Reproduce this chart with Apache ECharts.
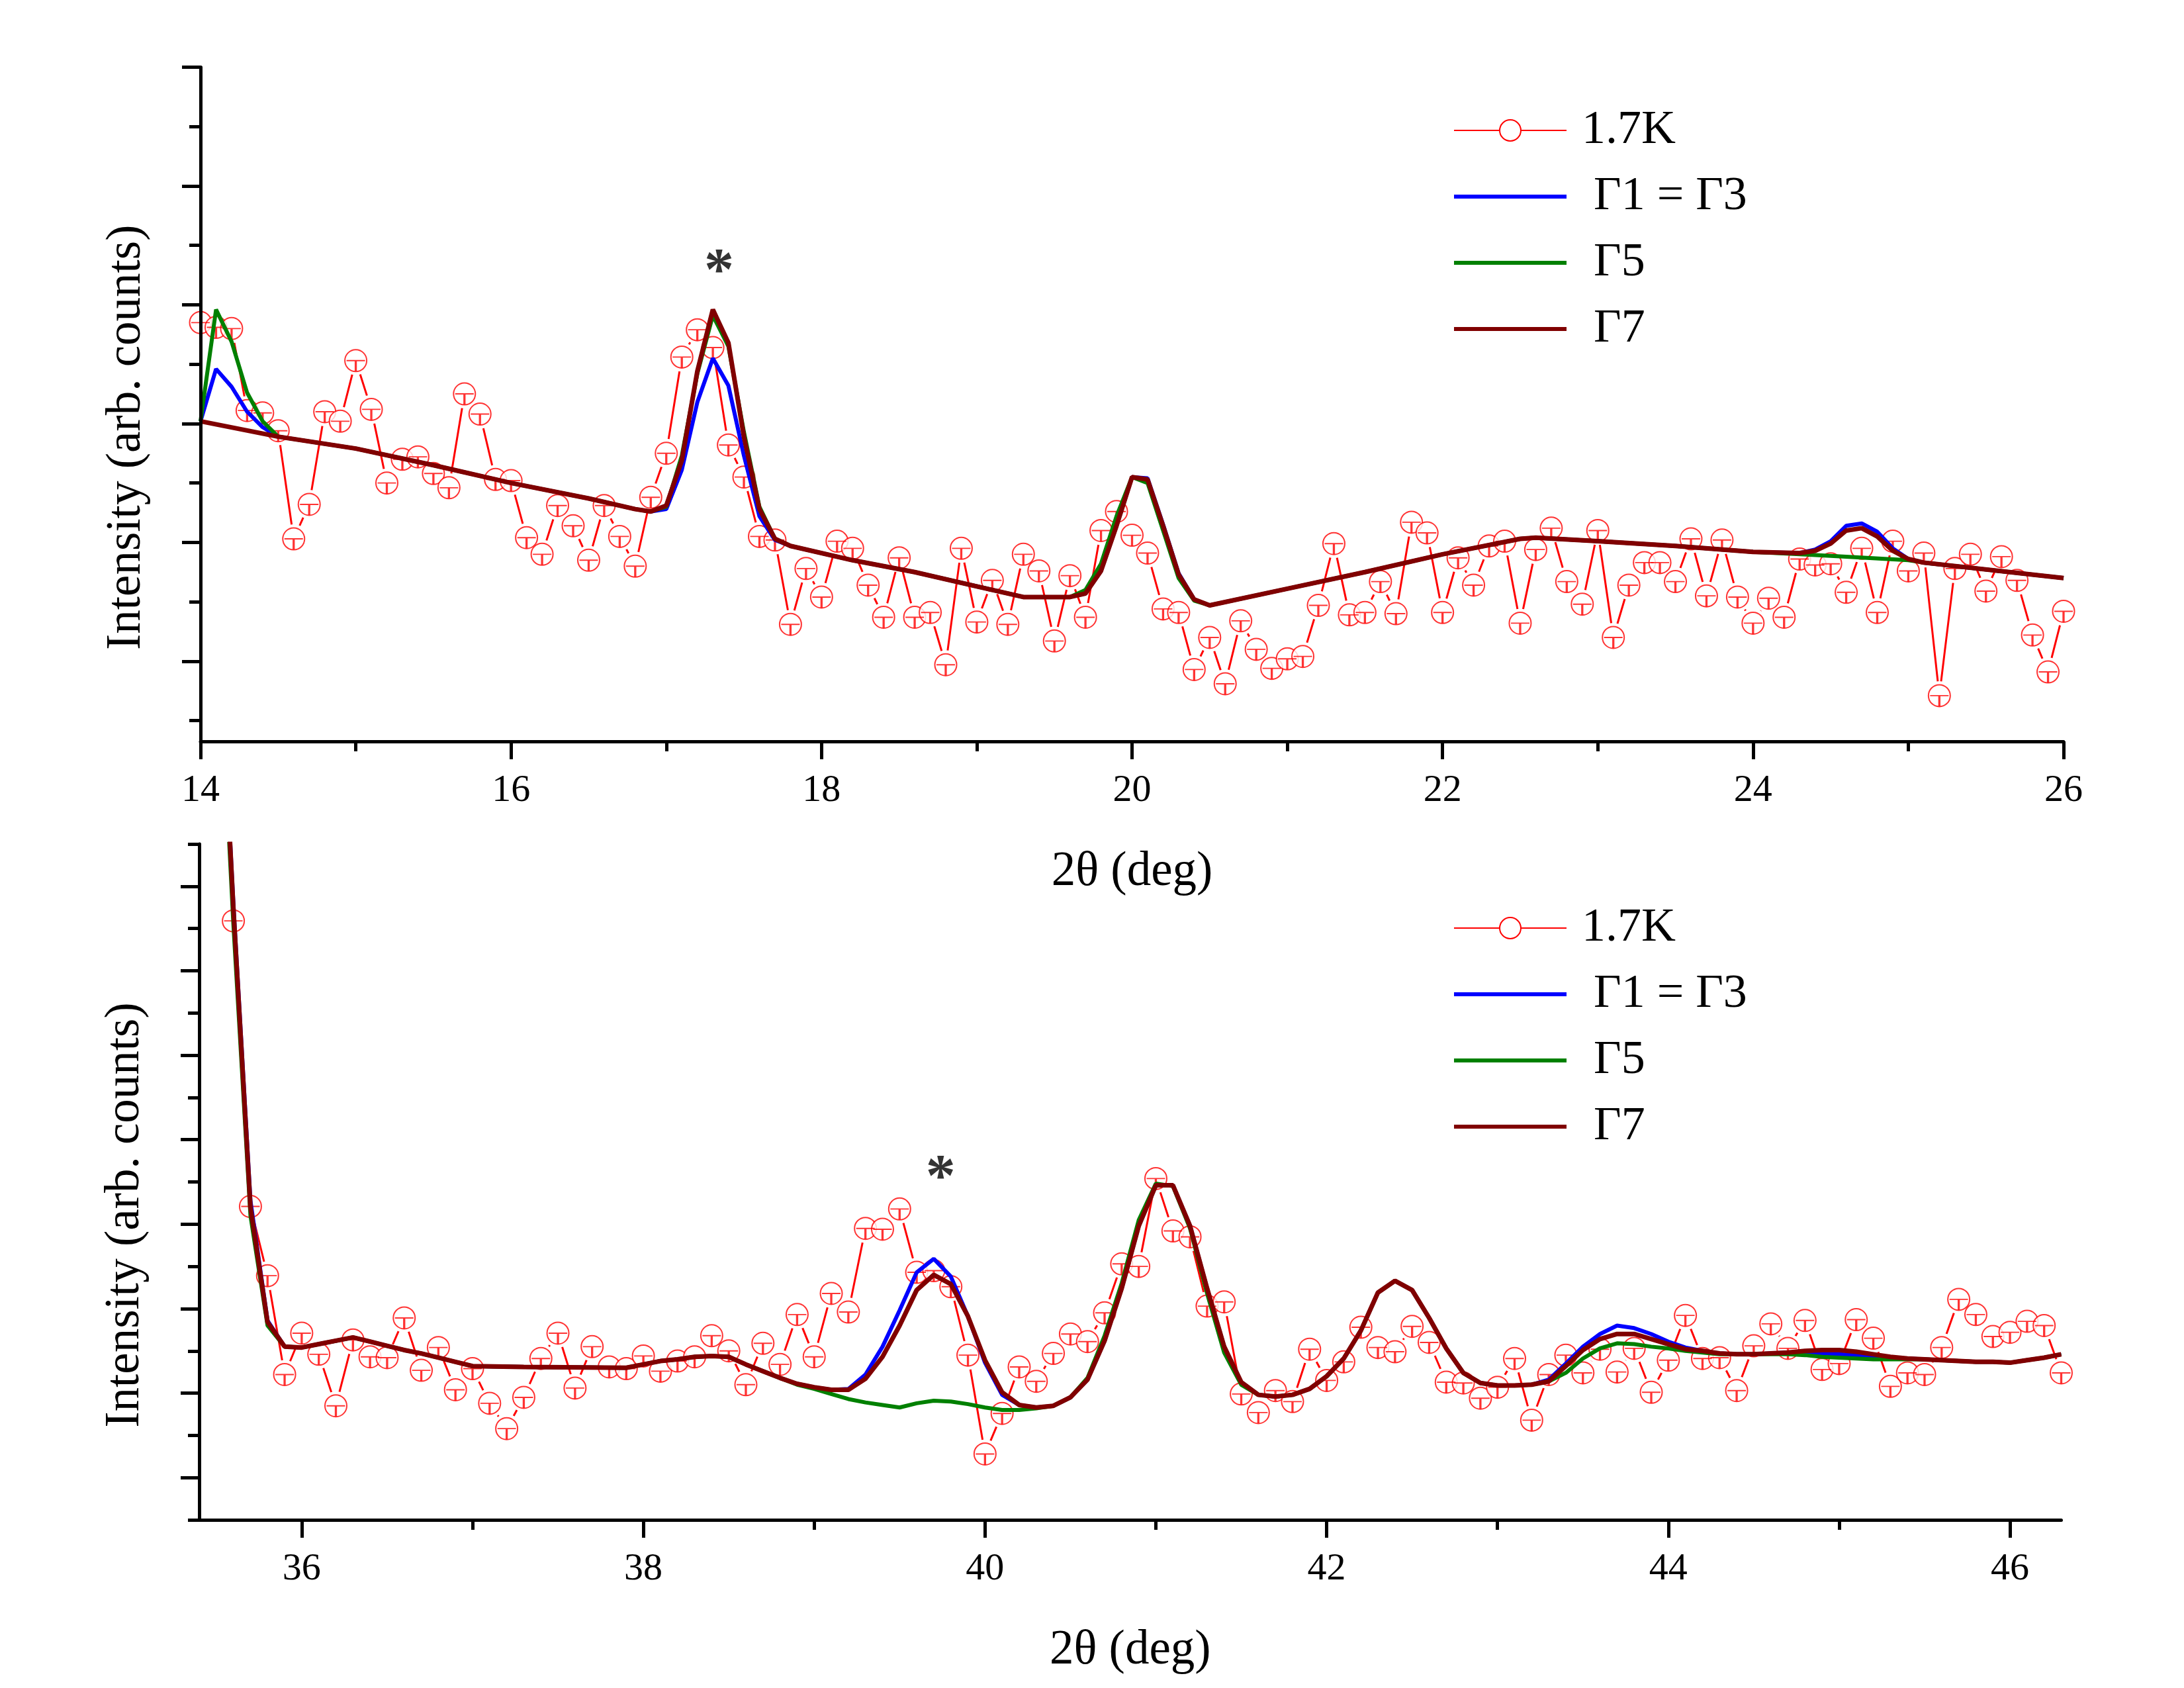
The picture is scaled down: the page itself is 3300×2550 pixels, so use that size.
<!DOCTYPE html>
<html><head><meta charset="utf-8">
<script src="https://cdn.jsdelivr.net/npm/echarts@6/dist/echarts.min.js"></script>
<style>html,body{margin:0;padding:0;background:#fff}#chart{width:3300px;height:2550px}</style>
</head><body><div id="chart"></div>
<script>
// ---------------- data ----------------
const step = 0.1;
const topStart = 14.0;
const botStart = 35.6;

// measured 1.7K intensities, top panel, 14.0 .. 26.0 deg
const top17K = [
 2.85,2.81,2.80,2.11,2.09,1.94,1.03,1.32,2.10,2.02,
 2.53,2.12,1.50,1.70,1.72,1.58,1.46,2.25,2.08,1.53,
 1.52,1.04,0.90,1.31,1.14,0.85,1.31,1.05,0.80,1.38,
 1.75,2.56,2.79,2.64,1.82,1.55,1.05,1.02,0.31,0.78,
 0.54,1.01,0.95,0.64,0.37,0.87,0.37,0.41,-0.03,0.95,
 0.33,0.68,0.31,0.90,0.76,0.17,0.72,0.37,1.10,1.26,
 1.06,0.91,0.44,0.41,-0.07,0.20,-0.19,0.34,0.10,-0.06,
 0.02,0.04,0.47,0.99,0.39,0.41,0.67,0.40,1.17,1.08,
 0.41,0.87,0.64,0.97,1.01,0.32,0.94,1.12,0.67,0.48,
 1.10,0.20,0.64,0.83,0.83,0.67,1.03,0.55,1.02,0.54,
 0.32,0.53,0.37,0.86,0.81,0.82,0.58,0.95,0.41,1.01,
 0.76,0.91,-0.29,0.78,0.90,0.59,0.88,0.68,0.22,-0.09,
 0.42
];

// measured 1.7K intensities, bottom panel, 35.6 .. 46.3 deg
const bot17K = [
 6.59,3.21,2.39,1.22,1.71,1.46,0.85,1.63,1.43,1.42,
 1.89,1.27,1.54,1.04,1.29,0.88,0.58,0.95,1.41,1.71,
 1.06,1.55,1.31,1.29,1.44,1.26,1.38,1.43,1.68,1.50,
 1.10,1.59,1.34,1.93,1.43,2.18,1.96,2.95,2.94,3.18,
 2.43,2.45,2.26,1.45,0.28,0.76,1.31,1.14,1.47,1.70,
 1.61,1.95,2.53,2.50,3.54,2.92,2.85,2.03,2.08,0.99,
 0.77,1.03,0.90,1.52,1.15,1.37,1.78,1.54,1.49,1.79,
 1.60,1.13,1.12,0.94,1.07,1.41,0.68,1.22,1.45,1.24,
 1.52,1.25,1.53,1.01,1.39,1.92,1.41,1.42,1.03,1.56,
 1.82,1.53,1.86,1.28,1.35,1.87,1.65,1.08,1.24,1.22,
 1.54,2.11,1.93,1.67,1.72,1.85,1.80,1.24
];

// model curves, top panel [2theta, intensity]
const topG13 = [[14.0,2.02],[14.1,2.46],[14.2,2.31],[14.3,2.10],[14.4,1.97],[14.5,1.89],[15.0,1.79],[15.5,1.65],[16.0,1.50],[16.5,1.37],[16.8,1.28],[16.9,1.26],[17.0,1.28],[17.1,1.61],[17.2,2.18],[17.3,2.55],[17.4,2.32],[17.5,1.73],[17.6,1.22],[17.7,1.02],[17.8,0.97],[18.2,0.85],[18.6,0.75],[19.0,0.63],[19.3,0.54],[19.6,0.54],[19.7,0.57],[19.8,0.76],[19.9,1.14],[20.0,1.55],[20.1,1.54],[20.2,1.15],[20.3,0.74],[20.4,0.52],[20.5,0.47],[21.0,0.61],[21.5,0.75],[22.0,0.90],[22.5,1.03],[22.6,1.04],[23.0,1.01],[23.5,0.97],[24.0,0.92],[24.3,0.91],[24.4,0.94],[24.5,1.01],[24.6,1.14],[24.7,1.16],[24.8,1.09],[24.9,0.95],[25.0,0.86],[25.1,0.83],[26.0,0.70]];
const topG5 = [[14.0,2.02],[14.1,2.96],[14.2,2.69],[14.3,2.26],[14.4,2.02],[14.5,1.89],[15.0,1.79],[15.5,1.65],[16.0,1.50],[16.5,1.37],[16.8,1.28],[16.9,1.26],[17.0,1.30],[17.1,1.73],[17.2,2.42],[17.3,2.91],[17.4,2.65],[17.5,1.93],[17.6,1.30],[17.7,1.03],[17.8,0.97],[18.2,0.85],[18.6,0.75],[19.0,0.63],[19.3,0.54],[19.6,0.54],[19.7,0.60],[19.8,0.82],[19.9,1.22],[20.0,1.55],[20.1,1.50],[20.2,1.10],[20.3,0.70],[20.4,0.51],[20.5,0.47],[21.0,0.61],[21.5,0.75],[22.0,0.90],[22.5,1.03],[22.6,1.04],[23.0,1.01],[23.5,0.97],[24.0,0.92],[24.3,0.90],[24.6,0.88],[25.0,0.85],[25.1,0.83],[26.0,0.70]];
const topG7 = [[14.0,2.02],[14.5,1.89],[15.0,1.79],[15.5,1.65],[16.0,1.50],[16.5,1.37],[16.8,1.28],[16.9,1.26],[17.0,1.31],[17.1,1.69],[17.2,2.44],[17.3,2.96],[17.4,2.68],[17.5,1.89],[17.6,1.28],[17.7,1.03],[17.8,0.97],[18.2,0.85],[18.6,0.75],[19.0,0.63],[19.3,0.54],[19.6,0.54],[19.7,0.57],[19.8,0.76],[19.9,1.14],[20.0,1.55],[20.1,1.53],[20.2,1.14],[20.3,0.73],[20.4,0.52],[20.5,0.47],[21.0,0.61],[21.5,0.75],[22.0,0.90],[22.5,1.03],[22.6,1.04],[23.0,1.01],[23.5,0.97],[24.0,0.92],[24.3,0.91],[24.4,0.93],[24.5,0.99],[24.6,1.10],[24.7,1.12],[24.8,1.05],[24.9,0.93],[25.0,0.86],[25.1,0.83],[26.0,0.70]];

// model curves, bottom panel
const botG13 = [[35.5,10.7],[35.6,6.80],[35.7,3.28],[35.8,1.86],[35.9,1.55],[36.0,1.54],[36.1,1.58],[36.2,1.62],[36.3,1.66],[36.4,1.61],[36.5,1.56],[36.6,1.51],[36.7,1.47],[36.8,1.42],[36.9,1.37],[37.0,1.32],[37.3,1.31],[37.9,1.30],[38.0,1.34],[38.1,1.38],[38.2,1.40],[38.3,1.43],[38.4,1.44],[38.5,1.43],[38.6,1.34],[38.7,1.26],[38.8,1.18],[38.9,1.11],[39.0,1.07],[39.1,1.04],[39.2,1.05],[39.3,1.22],[39.4,1.55],[39.5,1.98],[39.6,2.43],[39.7,2.59],[39.8,2.38],[39.9,1.91],[40.0,1.36],[40.1,0.98],[40.2,0.86],[40.3,0.83],[40.4,0.85],[40.5,0.95],[40.6,1.16],[40.7,1.62],[40.8,2.24],[40.9,2.98],[41.0,3.46],[41.1,3.46],[41.2,2.98],[41.3,2.24],[41.4,1.55],[41.5,1.13],[41.6,0.98],[41.7,0.96],[41.8,0.98],[41.9,1.05],[42.0,1.20],[42.1,1.41],[42.2,1.74],[42.3,2.19],[42.4,2.33],[42.5,2.22],[42.6,1.89],[42.7,1.53],[42.8,1.24],[42.9,1.12],[43.0,1.09],[43.1,1.09],[43.2,1.10],[43.3,1.16],[43.4,1.35],[43.5,1.55],[43.6,1.70],[43.7,1.80],[43.8,1.77],[43.9,1.70],[44.0,1.61],[44.1,1.54],[44.2,1.50],[44.3,1.47],[44.4,1.46],[44.5,1.46],[44.6,1.47],[44.7,1.48],[44.8,1.49],[44.9,1.47],[45.0,1.46],[45.1,1.45],[45.2,1.44],[45.3,1.42],[45.4,1.41],[45.5,1.40],[45.6,1.39],[45.7,1.38],[45.8,1.37],[45.9,1.37],[46.0,1.36],[46.1,1.39],[46.2,1.42],[46.3,1.46]];
const botG5 = [[35.5,10.5],[35.6,6.55],[35.7,3.10],[35.8,1.80],[35.9,1.55],[36.0,1.54],[36.1,1.58],[36.2,1.62],[36.3,1.66],[36.4,1.61],[36.5,1.56],[36.6,1.51],[36.7,1.47],[36.8,1.42],[36.9,1.37],[37.0,1.32],[37.3,1.31],[37.9,1.30],[38.0,1.34],[38.1,1.38],[38.2,1.40],[38.3,1.43],[38.4,1.44],[38.5,1.43],[38.6,1.34],[38.7,1.26],[38.8,1.18],[38.9,1.10],[39.0,1.05],[39.1,0.99],[39.2,0.93],[39.3,0.89],[39.4,0.86],[39.5,0.83],[39.6,0.88],[39.7,0.91],[39.8,0.90],[39.9,0.87],[40.0,0.83],[40.1,0.80],[40.2,0.80],[40.3,0.82],[40.4,0.85],[40.5,0.95],[40.6,1.18],[40.7,1.68],[40.8,2.30],[40.9,3.05],[41.0,3.48],[41.1,3.45],[41.2,2.95],[41.3,2.18],[41.4,1.48],[41.5,1.10],[41.6,0.98],[41.7,0.96],[41.8,0.98],[41.9,1.05],[42.0,1.20],[42.1,1.41],[42.2,1.74],[42.3,2.19],[42.4,2.33],[42.5,2.22],[42.6,1.89],[42.7,1.53],[42.8,1.24],[42.9,1.12],[43.0,1.09],[43.1,1.09],[43.2,1.10],[43.3,1.14],[43.4,1.24],[43.5,1.41],[43.6,1.53],[43.7,1.59],[43.8,1.58],[43.9,1.55],[44.0,1.53],[44.1,1.50],[44.2,1.48],[44.3,1.46],[44.4,1.46],[44.5,1.46],[44.6,1.46],[44.7,1.46],[44.8,1.45],[44.9,1.43],[45.0,1.42],[45.1,1.41],[45.2,1.40],[45.3,1.40],[45.4,1.40],[45.5,1.40],[45.6,1.39],[45.7,1.38],[45.8,1.37],[45.9,1.37],[46.0,1.36],[46.1,1.39],[46.2,1.42],[46.3,1.46]];
const botG7 = [[35.5,10.7],[35.6,6.74],[35.7,3.20],[35.8,1.84],[35.9,1.55],[36.0,1.54],[36.1,1.58],[36.2,1.62],[36.3,1.66],[36.4,1.61],[36.5,1.56],[36.6,1.51],[36.7,1.47],[36.8,1.42],[36.9,1.37],[37.0,1.32],[37.3,1.31],[37.9,1.30],[38.0,1.34],[38.1,1.38],[38.2,1.40],[38.3,1.43],[38.4,1.44],[38.5,1.43],[38.6,1.34],[38.7,1.26],[38.8,1.18],[38.9,1.11],[39.0,1.07],[39.1,1.04],[39.2,1.04],[39.3,1.17],[39.4,1.43],[39.5,1.80],[39.6,2.22],[39.7,2.40],[39.8,2.29],[39.9,1.91],[40.0,1.39],[40.1,1.01],[40.2,0.86],[40.3,0.83],[40.4,0.85],[40.5,0.95],[40.6,1.16],[40.7,1.62],[40.8,2.24],[40.9,2.98],[41.0,3.46],[41.1,3.46],[41.2,2.98],[41.3,2.24],[41.4,1.55],[41.5,1.13],[41.6,0.98],[41.7,0.96],[41.8,0.98],[41.9,1.05],[42.0,1.20],[42.1,1.41],[42.2,1.74],[42.3,2.19],[42.4,2.33],[42.5,2.22],[42.6,1.89],[42.7,1.53],[42.8,1.24],[42.9,1.12],[43.0,1.09],[43.1,1.09],[43.2,1.10],[43.3,1.14],[43.4,1.32],[43.5,1.51],[43.6,1.64],[43.7,1.70],[43.8,1.70],[43.9,1.64],[44.0,1.58],[44.1,1.52],[44.2,1.50],[44.3,1.47],[44.4,1.46],[44.5,1.46],[44.6,1.47],[44.7,1.48],[44.8,1.50],[44.9,1.51],[45.0,1.51],[45.1,1.49],[45.2,1.46],[45.3,1.43],[45.4,1.41],[45.5,1.40],[45.6,1.39],[45.7,1.38],[45.8,1.37],[45.9,1.37],[46.0,1.36],[46.1,1.39],[46.2,1.42],[46.3,1.46]];

// asterisk annotations [2theta, intensity]
const starTop = [17.34, 3.37];
const starBot = [39.74, 3.68];

// axis ticks / ranges
const topXRange = [14, 26], botXRange = [35.4, 46.3];
const topYRange = [-0.675, 5], botYRange = [-0.5, 7.5];
const topXMajor = [14,16,18,20,22,24,26], topXMinor = [15,17,19,21,23,25];
const botXMajor = [36,38,40,42,44,46], botXMinor = [37,39,41,43,45];
const topYMajor = [0,1,2,3,4,5], topYMinor = [-0.5,0.5,1.5,2.5,3.5,4.5];
const botYMajor = [0,1,2,3,4,5,6,7], botYMinor = [-0.5,0.5,1.5,2.5,3.5,4.5,5.5,6.5,7.5];

const seriesNames = ['1.7K', 'Γ1 = Γ3', 'Γ5', 'Γ7'];

// ---------------- chart ----------------
const FONT = "'Liberation Serif','Times New Roman',serif";
const C_DATA = '#ff0000', C_G13 = '#0000ff', C_G5 = '#008000', C_G7 = '#800000';
const toXY = (start, vals) => vals.map((v, i) => [Math.round((start + i * step) * 10) / 10, v]);

const axisLineStyle = { color: '#000', width: 5 };

function xAxes(grid, range, major, minor) {
  return [
    { gridIndex: grid, type: 'value', position: 'bottom', offset: 0, min: range[0], max: range[1], z: 10,
      axisLine: { show: true, onZero: false, lineStyle: axisLineStyle },
      axisTick: { show: true, customValues: major, length: 27, lineStyle: axisLineStyle },
      axisLabel: { show: true, customValues: major, margin: 46, fontSize: 58, color: '#000', fontFamily: FONT },
      splitLine: { show: false },
      name: '2θ (deg)', nameLocation: 'middle', nameGap: 161,
      nameTextStyle: { fontSize: 73, color: '#000', fontFamily: FONT } },
    { gridIndex: grid, type: 'value', position: 'bottom', offset: 0, min: range[0], max: range[1], z: 10,
      axisLine: { show: false, onZero: false },
      axisTick: { show: true, customValues: minor, length: 15, lineStyle: axisLineStyle },
      axisLabel: { show: false }, splitLine: { show: false } }
  ];
}
function yAxes(grid, range, major, minor) {
  return [
    { gridIndex: grid, type: 'value', position: 'left', offset: 0, min: range[0], max: range[1], z: 10,
      axisLine: { show: true, onZero: false, lineStyle: axisLineStyle },
      axisTick: { show: true, customValues: major, length: 28, lineStyle: axisLineStyle },
      axisLabel: { show: false }, splitLine: { show: false },
      name: 'Intensity (arb. counts)', nameLocation: 'middle', nameRotate: 90, nameGap: 75,
      nameTextStyle: { fontSize: 73, color: '#000', fontFamily: FONT, padding: [0, 100, 0, 0] } },
    { gridIndex: grid, type: 'value', position: 'left', offset: 0, min: range[0], max: range[1], z: 10,
      axisLine: { show: false, onZero: false },
      axisTick: { show: true, customValues: minor, length: 17, lineStyle: axisLineStyle },
      axisLabel: { show: false }, splitLine: { show: false } }
  ];
}

const errPath = 'path://M-1,0L1,0M0,0L0,1';

function panelSeries(ax, data, g13, g5, g7, star) {
  const base = { xAxisIndex: ax, yAxisIndex: ax, animation: false };
  return [
    Object.assign({}, base, { type: 'line', name: '1.7K', data: data, symbol: 'emptyCircle', symbolSize: 33,
      showSymbol: false, lineStyle: { color: C_DATA, width: 3 }, itemStyle: { color: C_DATA }, z: 2 }),
    Object.assign({}, base, { type: 'scatter', name: '1.7K', data: data, symbol: 'circle', symbolSize: 44,
      itemStyle: { color: '#ffffff', opacity: 1 }, silent: true, z: 2 }),
    Object.assign({}, base, { type: 'scatter', name: '1.7K', data: data, symbol: 'emptyCircle', symbolSize: 33,
      itemStyle: { color: C_DATA, borderColor: C_DATA, borderWidth: 3 }, silent: true, z: 2 }),
    Object.assign({}, base, { type: 'scatter', name: '1.7K', data: data, symbol: errPath, symbolSize: [28, 16],
      symbolOffset: [0, 8], symbolKeepAspect: false,
      itemStyle: { color: 'none', borderColor: C_DATA, borderWidth: 2.5 }, silent: true, z: 2 }),
    Object.assign({}, base, { type: 'line', name: 'Γ1 = Γ3', data: g13, symbol: 'none', showSymbol: false,
      lineStyle: { color: C_G13, width: 6 }, itemStyle: { color: C_G13 }, z: 3 }),
    Object.assign({}, base, { type: 'line', name: 'Γ5', data: g5, symbol: 'none', showSymbol: false,
      lineStyle: { color: C_G5, width: 6 }, itemStyle: { color: C_G5 }, z: 3 }),
    Object.assign({}, base, { type: 'line', name: 'Γ7', data: g7, symbol: 'none', showSymbol: false,
      lineStyle: { color: C_G7, width: 7 }, itemStyle: { color: C_G7 }, z: 3 }),
    Object.assign({}, base, { type: 'scatter', data: [star], symbol: 'circle', symbolSize: 2,
      itemStyle: { color: 'rgba(0,0,0,0)' }, silent: true, z: 5,
      label: { show: true, formatter: '*', position: 'inside', fontSize: 90, fontWeight: 'bold',
               color: '#000', fontFamily: FONT, offset: [0, 20] } })
  ];
}

const lineIcon = 'path://M0,0L170,0L170,6L0,6Z';
function legendFor(top) {
  return {
    orient: 'vertical', left: 2191, top: top, itemWidth: 170, itemHeight: 40, itemGap: 20,
    selectedMode: false,
    textStyle: { fontSize: 72, color: '#000', fontFamily: FONT, lineHeight: 80 },
    formatter: n => (n === '1.7K' ? ' ' : '  ') + n,
    data: [
      { name: seriesNames[0] },
      { name: seriesNames[1], icon: lineIcon },
      { name: seriesNames[2], icon: lineIcon },
      { name: seriesNames[3], icon: lineIcon }
    ]
  };
}

const option = {
  animation: false,
  backgroundColor: '#ffffff',
  textStyle: { fontFamily: FONT },
  grid: [
    { left: 303, right: 182, top: 101.5, bottom: 1430 },
    { left: 301, right: 185.5, top: 1275, bottom: 254 }
  ],
  xAxis: [].concat(xAxes(0, topXRange, topXMajor, topXMinor), xAxes(1, botXRange, botXMajor, botXMinor)),
  yAxis: [].concat(yAxes(0, topYRange, topYMajor, topYMinor), yAxes(1, botYRange, botYMajor, botYMinor)),
  legend: [legendFor(152), legendFor(1357)],
  series: [].concat(
    panelSeries(0, toXY(topStart, top17K), topG13, topG5, topG7, starTop),
    panelSeries(2, toXY(botStart, bot17K), botG13, botG5, botG7, starBot)
  )
};

const chart = echarts.init(document.getElementById('chart'), null, { renderer: 'canvas', width: 3300, height: 2550 });
chart.setOption(option);
</script>
</body></html>
